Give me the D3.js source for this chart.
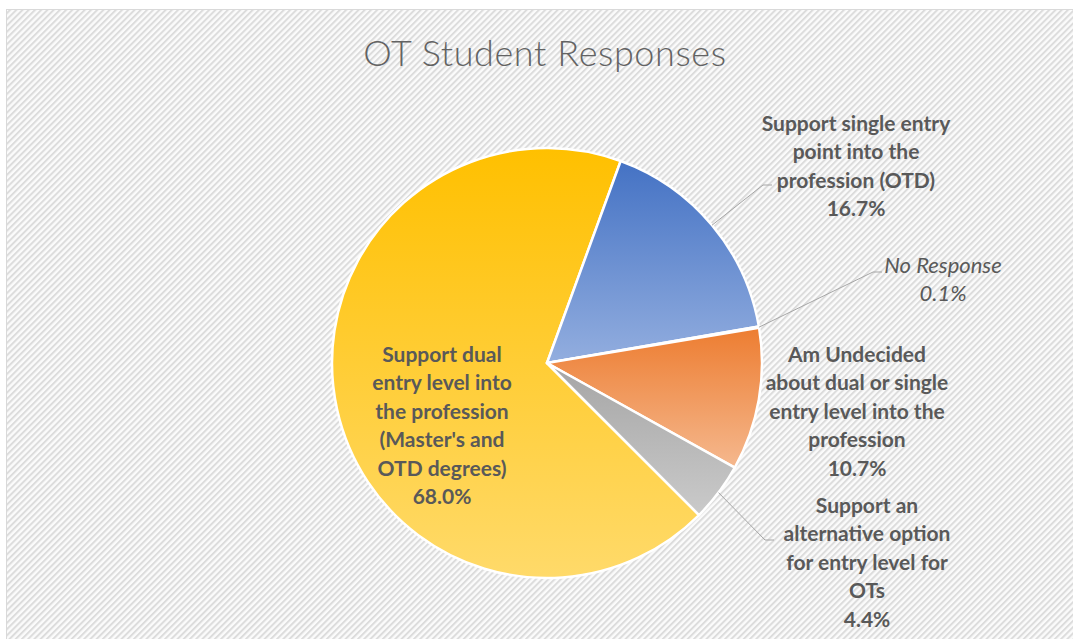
<!DOCTYPE html>
<html>
<head>
<meta charset="utf-8">
<script src="https://cdn.jsdelivr.net/npm/d3@7"></script>
<style>
    html, body { margin: 0; padding: 0; background: #fff; }
    #vis { width: 1073px; height: 639px; overflow: hidden; }
</style>
</head>
<body>
<div id="vis"></div>
<script>
// data
var categories = [
    "Support dual\nentry level into\nthe profession\n(Master's and\nOTD degrees)",
    'Support single entry\npoint into the\nprofession (OTD)',
    'No Response',
    'Am Undecided\nabout dual or single\nentry level into the\nprofession',
    'Support an\nalternative option\nfor entry level for\nOTs'
];
var values = [68.0, 16.7, 0.1, 10.7, 4.4];
var title = 'OT Student Responses';

// slice colours: top of slice -> bottom of slice
var colorsTop = ['#FFC000', '#4472C4', '#A5A5A5', '#ED7D31', '#A5A5A5'];
var colorsBottom = ['#FFDA6A', '#93AEDF', '#C9C9C9', '#F5B88E', '#CACACA'];

// label placement relative to pie centre: [x, first baseline], plus leader elbow (null = inside)
var labelPos = [[-105, -1], [309, -232], [396, -90], [310, -1], [320, 150]];
var elbows = [null, [216, -178], [326, -91], null, [218, 177]];

var width = 1073, height = 639;
var center = {x: 547, y: 363};
var radius = 215;
var lineHeight = 28.4;

var svg = d3.select('#vis')
    .append('svg')
        .attr('width', width)
        .attr('height', height);

var defs = svg.append('defs');

var pattern = defs.append('pattern')
    .attr('id', 'stripes')
    .attr('patternUnits', 'userSpaceOnUse')
    .attr('width', 4.4)
    .attr('height', 4.4)
    .attr('patternTransform', 'rotate(-45)');
pattern.append('rect')
    .attr('width', 4.4).attr('height', 4.4).attr('fill', '#fbfbfb');
pattern.append('rect')
    .attr('width', 4.4).attr('height', 2).attr('fill', '#dcdcdc');

values.forEach(function(v, i) {
    var g = defs.append('linearGradient')
        .attr('id', 'grad' + i)
        .attr('x1', 0).attr('y1', 0).attr('x2', 0).attr('y2', 1);
    g.append('stop').attr('offset', '0%').attr('stop-color', colorsTop[i]);
    g.append('stop').attr('offset', '100%').attr('stop-color', colorsBottom[i]);
});

// chart area
svg.append('rect')
    .attr('x', 6.5)
    .attr('y', 9.5)
    .attr('width', width + 10)
    .attr('height', height + 10)
    .attr('fill', 'url(#stripes)')
    .attr('stroke', '#d9d9d9');

svg.append('text')
    .attr('x', center.x - 2)
    .attr('y', 66)
    .attr('text-anchor', 'middle')
    .style('font-family', 'Lato')
    .style('font-weight', 300)
    .style('font-size', '36px')
    .style('letter-spacing', '0.6px')
    .style('fill', '#636363')
    .text(title);

var deg = Math.PI / 180;
var pie = d3.pie()
    .sort(null)
    .value(function(d) { return d; })
    .startAngle(-225 * deg)
    .endAngle(135 * deg);

var arcs = pie(values);
var arc = d3.arc().innerRadius(0).outerRadius(radius);

var g = svg.append('g')
    .attr('transform', 'translate(' + center.x + ',' + center.y + ')');

g.selectAll('path.slice')
    .data(arcs)
    .enter()
    .append('path')
        .attr('class', 'slice')
        .attr('d', arc)
        .attr('fill', function(d, i) { return 'url(#grad' + i + ')'; })
        .attr('stroke', '#fff')
        .attr('stroke-width', 2.5)
        .attr('stroke-linejoin', 'round');

// leader lines
arcs.forEach(function(d, i) {
    if (!elbows[i]) return;
    var mid = (d.startAngle + d.endAngle) / 2;
    var start = [Math.sin(mid) * radius, -Math.cos(mid) * radius];
    var e = elbows[i];
    g.append('path')
        .attr('d', d3.line()([start, e, [e[0] + 9, e[1]]]))
        .attr('fill', 'none')
        .attr('stroke', '#a6a6a6')
        .attr('stroke-width', 1);
});

// labels
arcs.forEach(function(d, i) {
    var lines = categories[i].split('\n');
    lines.push(values[i].toFixed(1) + '%');
    var italic = categories[i] === 'No Response';
    var t = g.append('text')
        .attr('text-anchor', 'middle')
        .style('font-family', 'Lato')
        .style('font-size', italic ? '22px' : '21px')
        .style('font-weight', italic ? 400 : 700)
        .style('font-style', italic ? 'italic' : 'normal')
        .style('fill', '#595959');
    lines.forEach(function(l, j) {
        t.append('tspan')
            .attr('x', labelPos[i][0])
            .attr('y', labelPos[i][1] + j * lineHeight)
            .text(l);
    });
});
</script>
</body>
</html>
